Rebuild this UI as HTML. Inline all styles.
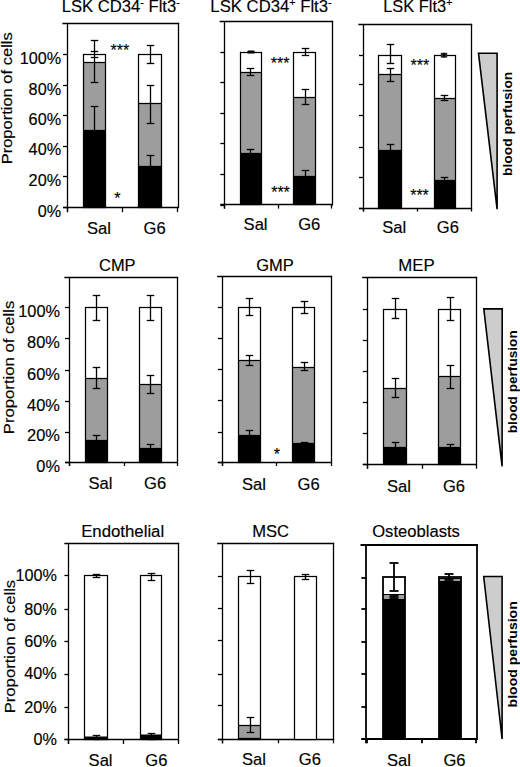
<!DOCTYPE html><html><head><meta charset="utf-8"><style>html,body{margin:0;padding:0;background:#fff;width:520px;height:767px;overflow:hidden}svg{display:block;font-family:"Liberation Sans", sans-serif} text{stroke:#000;stroke-width:0.15px} text[font-weight=bold]{stroke:none}</style></head><body>
<svg width="520" height="767" viewBox="0 0 520 767">
<rect width="520" height="767" fill="#fff"/>
<line x1="63" y1="23.5" x2="178.5" y2="23.5" stroke="#000" stroke-width="1.3" stroke-linecap="square"/>
<line x1="178.5" y1="23.5" x2="178.5" y2="207.5" stroke="#000" stroke-width="1.3" stroke-linecap="square"/>
<line x1="67.5" y1="23.6" x2="67.5" y2="212.2" stroke="#000" stroke-width="1.3"/>
<line x1="63.0" y1="207.5" x2="178" y2="207.5" stroke="#000" stroke-width="1.3"/>
<line x1="63.0" y1="207.5" x2="67.2" y2="207.5" stroke="#000" stroke-width="1.3"/>
<line x1="63.0" y1="176.5" x2="67.2" y2="176.5" stroke="#000" stroke-width="1.3"/>
<line x1="63.0" y1="146.5" x2="67.2" y2="146.5" stroke="#000" stroke-width="1.3"/>
<line x1="63.0" y1="115.5" x2="67.2" y2="115.5" stroke="#000" stroke-width="1.3"/>
<line x1="63.0" y1="85.5" x2="67.2" y2="85.5" stroke="#000" stroke-width="1.3"/>
<line x1="63.0" y1="54.5" x2="67.2" y2="54.5" stroke="#000" stroke-width="1.3"/>
<line x1="67.5" y1="207.5" x2="67.5" y2="212.2" stroke="#000" stroke-width="1.3"/>
<line x1="122.5" y1="207.5" x2="122.5" y2="212.2" stroke="#000" stroke-width="1.3"/>
<line x1="177.5" y1="207.5" x2="177.5" y2="212.2" stroke="#000" stroke-width="1.3"/>
<rect x="83.5" y="54.5" width="22.0" height="8.0" fill="#fff"/>
<rect x="83.5" y="62.5" width="22.0" height="68.0" fill="#9d9d9d"/>
<rect x="83.5" y="130.5" width="22.0" height="77.0" fill="#000"/>
<rect x="83.5" y="54.5" width="22.0" height="153.0" fill="none" stroke="#000" stroke-width="1.25"/>
<line x1="83.5" y1="62.5" x2="105.5" y2="62.5" stroke="#000" stroke-width="1.25"/>
<line x1="83.5" y1="130.5" x2="105.5" y2="130.5" stroke="#000" stroke-width="1.25"/>
<line x1="94.5" y1="40.0" x2="94.5" y2="82.4" stroke="#000" stroke-width="1.3"/>
<line x1="90.75" y1="40.5" x2="98.25" y2="40.5" stroke="#000" stroke-width="1.3"/>
<line x1="90.75" y1="51.5" x2="98.25" y2="51.5" stroke="#000" stroke-width="1.3"/>
<line x1="90.75" y1="57.5" x2="98.25" y2="57.5" stroke="#000" stroke-width="1.3"/>
<line x1="90.75" y1="82.5" x2="98.25" y2="82.5" stroke="#000" stroke-width="1.3"/>
<line x1="94.5" y1="106.8" x2="94.5" y2="150" stroke="#000" stroke-width="1.3"/>
<line x1="90.75" y1="106.5" x2="98.25" y2="106.5" stroke="#000" stroke-width="1.3"/>
<line x1="90.75" y1="150.5" x2="98.25" y2="150.5" stroke="#000" stroke-width="1.3"/>
<rect x="138.5" y="54.5" width="23.0" height="49.0" fill="#fff"/>
<rect x="138.5" y="103.5" width="23.0" height="63.0" fill="#9d9d9d"/>
<rect x="138.5" y="166.5" width="23.0" height="41.0" fill="#000"/>
<rect x="138.5" y="54.5" width="23.0" height="153.0" fill="none" stroke="#000" stroke-width="1.25"/>
<line x1="138.5" y1="103.5" x2="161.5" y2="103.5" stroke="#000" stroke-width="1.25"/>
<line x1="138.5" y1="166.5" x2="161.5" y2="166.5" stroke="#000" stroke-width="1.25"/>
<line x1="150.5" y1="45.5" x2="150.5" y2="63.0" stroke="#000" stroke-width="1.3"/>
<line x1="146.75" y1="45.5" x2="154.25" y2="45.5" stroke="#000" stroke-width="1.3"/>
<line x1="146.75" y1="63.5" x2="154.25" y2="63.5" stroke="#000" stroke-width="1.3"/>
<line x1="150.5" y1="85.5" x2="150.5" y2="123.0" stroke="#000" stroke-width="1.3"/>
<line x1="146.75" y1="85.5" x2="154.25" y2="85.5" stroke="#000" stroke-width="1.3"/>
<line x1="146.75" y1="123.5" x2="154.25" y2="123.5" stroke="#000" stroke-width="1.3"/>
<line x1="150.5" y1="155.3" x2="150.5" y2="185" stroke="#000" stroke-width="1.3"/>
<line x1="146.75" y1="155.5" x2="154.25" y2="155.5" stroke="#000" stroke-width="1.3"/>
<line x1="146.75" y1="185.5" x2="154.25" y2="185.5" stroke="#000" stroke-width="1.3"/>
<line x1="220.3" y1="21.5" x2="332.5" y2="21.5" stroke="#000" stroke-width="1.3" stroke-linecap="square"/>
<line x1="332.5" y1="21.5" x2="332.5" y2="204.9" stroke="#000" stroke-width="1.3" stroke-linecap="square"/>
<line x1="224.5" y1="21.3" x2="224.5" y2="208.6" stroke="#000" stroke-width="1.3"/>
<line x1="220.3" y1="204.5" x2="332" y2="204.5" stroke="#000" stroke-width="1.3"/>
<line x1="220.3" y1="205.5" x2="224.5" y2="205.5" stroke="#000" stroke-width="1.3"/>
<line x1="220.3" y1="174.5" x2="224.5" y2="174.5" stroke="#000" stroke-width="1.3"/>
<line x1="220.3" y1="143.5" x2="224.5" y2="143.5" stroke="#000" stroke-width="1.3"/>
<line x1="220.3" y1="113.5" x2="224.5" y2="113.5" stroke="#000" stroke-width="1.3"/>
<line x1="220.3" y1="82.5" x2="224.5" y2="82.5" stroke="#000" stroke-width="1.3"/>
<line x1="220.3" y1="52.5" x2="224.5" y2="52.5" stroke="#000" stroke-width="1.3"/>
<line x1="224.5" y1="204.9" x2="224.5" y2="208.6" stroke="#000" stroke-width="1.3"/>
<line x1="278.5" y1="204.9" x2="278.5" y2="208.6" stroke="#000" stroke-width="1.3"/>
<line x1="331.5" y1="204.9" x2="331.5" y2="208.6" stroke="#000" stroke-width="1.3"/>
<rect x="240.5" y="52.5" width="21.0" height="20.0" fill="#fff"/>
<rect x="240.5" y="72.5" width="21.0" height="81.0" fill="#9d9d9d"/>
<rect x="240.5" y="153.5" width="21.0" height="51.0" fill="#000"/>
<rect x="240.5" y="52.5" width="21.0" height="152.0" fill="none" stroke="#000" stroke-width="1.25"/>
<line x1="240.5" y1="72.5" x2="261.5" y2="72.5" stroke="#000" stroke-width="1.25"/>
<line x1="240.5" y1="153.5" x2="261.5" y2="153.5" stroke="#000" stroke-width="1.25"/>
<rect x="247.3" y="50.6" width="7.4" height="3" rx="1.2" fill="#000"/>
<line x1="250.5" y1="68.0" x2="250.5" y2="75.5" stroke="#000" stroke-width="1.3"/>
<line x1="246.75" y1="68.5" x2="254.25" y2="68.5" stroke="#000" stroke-width="1.3"/>
<line x1="246.75" y1="75.5" x2="254.25" y2="75.5" stroke="#000" stroke-width="1.3"/>
<line x1="250.5" y1="149.5" x2="250.5" y2="175" stroke="#000" stroke-width="1.3"/>
<line x1="246.75" y1="149.5" x2="254.25" y2="149.5" stroke="#000" stroke-width="1.3"/>
<line x1="246.75" y1="175.5" x2="254.25" y2="175.5" stroke="#000" stroke-width="1.3"/>
<rect x="293.5" y="52.5" width="22.0" height="45.0" fill="#fff"/>
<rect x="293.5" y="97.5" width="22.0" height="79.0" fill="#9d9d9d"/>
<rect x="293.5" y="176.5" width="22.0" height="28.0" fill="#000"/>
<rect x="293.5" y="52.5" width="22.0" height="152.0" fill="none" stroke="#000" stroke-width="1.25"/>
<line x1="293.5" y1="97.5" x2="315.5" y2="97.5" stroke="#000" stroke-width="1.25"/>
<line x1="293.5" y1="176.5" x2="315.5" y2="176.5" stroke="#000" stroke-width="1.25"/>
<line x1="305.5" y1="48.0" x2="305.5" y2="55.5" stroke="#000" stroke-width="1.3"/>
<line x1="301.75" y1="48.5" x2="309.25" y2="48.5" stroke="#000" stroke-width="1.3"/>
<line x1="301.75" y1="55.5" x2="309.25" y2="55.5" stroke="#000" stroke-width="1.3"/>
<line x1="305.5" y1="89.3" x2="305.5" y2="104.5" stroke="#000" stroke-width="1.3"/>
<line x1="301.75" y1="89.5" x2="309.25" y2="89.5" stroke="#000" stroke-width="1.3"/>
<line x1="301.75" y1="104.5" x2="309.25" y2="104.5" stroke="#000" stroke-width="1.3"/>
<line x1="305.5" y1="170.5" x2="305.5" y2="195" stroke="#000" stroke-width="1.3"/>
<line x1="301.75" y1="170.5" x2="309.25" y2="170.5" stroke="#000" stroke-width="1.3"/>
<line x1="301.75" y1="195.5" x2="309.25" y2="195.5" stroke="#000" stroke-width="1.3"/>
<line x1="359.0" y1="24.5" x2="471.5" y2="24.5" stroke="#000" stroke-width="1.3" stroke-linecap="square"/>
<line x1="471.5" y1="24.5" x2="471.5" y2="208.1" stroke="#000" stroke-width="1.3" stroke-linecap="square"/>
<line x1="363.5" y1="24.3" x2="363.5" y2="211.5" stroke="#000" stroke-width="1.3"/>
<line x1="359.0" y1="208.5" x2="471.8" y2="208.5" stroke="#000" stroke-width="1.3"/>
<line x1="359.0" y1="208.5" x2="363.2" y2="208.5" stroke="#000" stroke-width="1.3"/>
<line x1="359.0" y1="177.5" x2="363.2" y2="177.5" stroke="#000" stroke-width="1.3"/>
<line x1="359.0" y1="147.5" x2="363.2" y2="147.5" stroke="#000" stroke-width="1.3"/>
<line x1="359.0" y1="115.5" x2="363.2" y2="115.5" stroke="#000" stroke-width="1.3"/>
<line x1="359.0" y1="84.5" x2="363.2" y2="84.5" stroke="#000" stroke-width="1.3"/>
<line x1="359.0" y1="55.5" x2="363.2" y2="55.5" stroke="#000" stroke-width="1.3"/>
<line x1="363.5" y1="208.1" x2="363.5" y2="211.5" stroke="#000" stroke-width="1.3"/>
<line x1="417.5" y1="208.1" x2="417.5" y2="211.5" stroke="#000" stroke-width="1.3"/>
<line x1="471.5" y1="208.1" x2="471.5" y2="211.5" stroke="#000" stroke-width="1.3"/>
<rect x="378.5" y="55.5" width="23.0" height="19.0" fill="#fff"/>
<rect x="378.5" y="74.5" width="23.0" height="76.0" fill="#9d9d9d"/>
<rect x="378.5" y="150.5" width="23.0" height="58.0" fill="#000"/>
<rect x="378.5" y="55.5" width="23.0" height="153.0" fill="none" stroke="#000" stroke-width="1.25"/>
<line x1="378.5" y1="74.5" x2="401.5" y2="74.5" stroke="#000" stroke-width="1.25"/>
<line x1="378.5" y1="150.5" x2="401.5" y2="150.5" stroke="#000" stroke-width="1.25"/>
<line x1="390.5" y1="44.3" x2="390.5" y2="63.3" stroke="#000" stroke-width="1.3"/>
<line x1="386.75" y1="44.5" x2="394.25" y2="44.5" stroke="#000" stroke-width="1.3"/>
<line x1="386.75" y1="63.5" x2="394.25" y2="63.5" stroke="#000" stroke-width="1.3"/>
<line x1="390.5" y1="68.3" x2="390.5" y2="81.8" stroke="#000" stroke-width="1.3"/>
<line x1="386.75" y1="68.5" x2="394.25" y2="68.5" stroke="#000" stroke-width="1.3"/>
<line x1="386.75" y1="81.5" x2="394.25" y2="81.5" stroke="#000" stroke-width="1.3"/>
<line x1="390.5" y1="144.0" x2="390.5" y2="170" stroke="#000" stroke-width="1.3"/>
<line x1="386.75" y1="144.5" x2="394.25" y2="144.5" stroke="#000" stroke-width="1.3"/>
<line x1="386.75" y1="170.5" x2="394.25" y2="170.5" stroke="#000" stroke-width="1.3"/>
<rect x="434.5" y="55.5" width="21.0" height="43.0" fill="#fff"/>
<rect x="434.5" y="98.5" width="21.0" height="82.0" fill="#9d9d9d"/>
<rect x="434.5" y="180.5" width="21.0" height="28.0" fill="#000"/>
<rect x="434.5" y="55.5" width="21.0" height="153.0" fill="none" stroke="#000" stroke-width="1.25"/>
<line x1="434.5" y1="98.5" x2="455.5" y2="98.5" stroke="#000" stroke-width="1.25"/>
<line x1="434.5" y1="180.5" x2="455.5" y2="180.5" stroke="#000" stroke-width="1.25"/>
<rect x="440.8" y="52.8" width="6.4" height="4.8" fill="#262626"/>
<line x1="444" y1="52.8" x2="444" y2="57.6" stroke="#000" stroke-width="1.5"/>
<line x1="444.5" y1="95.4" x2="444.5" y2="100.8" stroke="#000" stroke-width="1.3"/>
<line x1="440.75" y1="95.5" x2="448.25" y2="95.5" stroke="#000" stroke-width="1.3"/>
<line x1="440.75" y1="100.5" x2="448.25" y2="100.5" stroke="#000" stroke-width="1.3"/>
<line x1="444.5" y1="177.2" x2="444.5" y2="195" stroke="#000" stroke-width="1.3"/>
<line x1="440.75" y1="177.5" x2="448.25" y2="177.5" stroke="#000" stroke-width="1.3"/>
<line x1="440.75" y1="195.5" x2="448.25" y2="195.5" stroke="#000" stroke-width="1.3"/>
<line x1="65.0" y1="277.5" x2="177.5" y2="277.5" stroke="#000" stroke-width="1.3" stroke-linecap="square"/>
<line x1="177.5" y1="277.5" x2="177.5" y2="462.6" stroke="#000" stroke-width="1.3" stroke-linecap="square"/>
<line x1="69.5" y1="277.3" x2="69.5" y2="466.0" stroke="#000" stroke-width="1.3"/>
<line x1="65.0" y1="462.5" x2="177.5" y2="462.5" stroke="#000" stroke-width="1.3"/>
<line x1="65.0" y1="462.5" x2="69.2" y2="462.5" stroke="#000" stroke-width="1.3"/>
<line x1="65.0" y1="432.5" x2="69.2" y2="432.5" stroke="#000" stroke-width="1.3"/>
<line x1="65.0" y1="401.5" x2="69.2" y2="401.5" stroke="#000" stroke-width="1.3"/>
<line x1="65.0" y1="370.5" x2="69.2" y2="370.5" stroke="#000" stroke-width="1.3"/>
<line x1="65.0" y1="338.5" x2="69.2" y2="338.5" stroke="#000" stroke-width="1.3"/>
<line x1="65.0" y1="307.5" x2="69.2" y2="307.5" stroke="#000" stroke-width="1.3"/>
<line x1="69.5" y1="462.6" x2="69.5" y2="466.0" stroke="#000" stroke-width="1.3"/>
<line x1="124.5" y1="462.6" x2="124.5" y2="466.0" stroke="#000" stroke-width="1.3"/>
<line x1="177.5" y1="462.6" x2="177.5" y2="466.0" stroke="#000" stroke-width="1.3"/>
<rect x="85.5" y="307.5" width="22.0" height="71.0" fill="#fff"/>
<rect x="85.5" y="378.5" width="22.0" height="62.0" fill="#9d9d9d"/>
<rect x="85.5" y="440.5" width="22.0" height="22.0" fill="#000"/>
<rect x="85.5" y="307.5" width="22.0" height="155.0" fill="none" stroke="#000" stroke-width="1.25"/>
<line x1="85.5" y1="378.5" x2="107.5" y2="378.5" stroke="#000" stroke-width="1.25"/>
<line x1="85.5" y1="440.5" x2="107.5" y2="440.5" stroke="#000" stroke-width="1.25"/>
<line x1="96.5" y1="295.0" x2="96.5" y2="320.8" stroke="#000" stroke-width="1.3"/>
<line x1="92.75" y1="295.5" x2="100.25" y2="295.5" stroke="#000" stroke-width="1.3"/>
<line x1="92.75" y1="320.5" x2="100.25" y2="320.5" stroke="#000" stroke-width="1.3"/>
<line x1="96.5" y1="367.5" x2="96.5" y2="388.3" stroke="#000" stroke-width="1.3"/>
<line x1="92.75" y1="367.5" x2="100.25" y2="367.5" stroke="#000" stroke-width="1.3"/>
<line x1="92.75" y1="388.5" x2="100.25" y2="388.5" stroke="#000" stroke-width="1.3"/>
<line x1="96.5" y1="435.0" x2="96.5" y2="455" stroke="#000" stroke-width="1.3"/>
<line x1="92.75" y1="435.5" x2="100.25" y2="435.5" stroke="#000" stroke-width="1.3"/>
<line x1="92.75" y1="455.5" x2="100.25" y2="455.5" stroke="#000" stroke-width="1.3"/>
<rect x="139.5" y="307.5" width="22.0" height="77.0" fill="#fff"/>
<rect x="139.5" y="384.5" width="22.0" height="64.0" fill="#9d9d9d"/>
<rect x="139.5" y="448.5" width="22.0" height="14.0" fill="#000"/>
<rect x="139.5" y="307.5" width="22.0" height="155.0" fill="none" stroke="#000" stroke-width="1.25"/>
<line x1="139.5" y1="384.5" x2="161.5" y2="384.5" stroke="#000" stroke-width="1.25"/>
<line x1="139.5" y1="448.5" x2="161.5" y2="448.5" stroke="#000" stroke-width="1.25"/>
<line x1="150.5" y1="295.0" x2="150.5" y2="320.8" stroke="#000" stroke-width="1.3"/>
<line x1="146.75" y1="295.5" x2="154.25" y2="295.5" stroke="#000" stroke-width="1.3"/>
<line x1="146.75" y1="320.5" x2="154.25" y2="320.5" stroke="#000" stroke-width="1.3"/>
<line x1="150.5" y1="375.0" x2="150.5" y2="393.8" stroke="#000" stroke-width="1.3"/>
<line x1="146.75" y1="375.5" x2="154.25" y2="375.5" stroke="#000" stroke-width="1.3"/>
<line x1="146.75" y1="393.5" x2="154.25" y2="393.5" stroke="#000" stroke-width="1.3"/>
<line x1="150.5" y1="444.5" x2="150.5" y2="458" stroke="#000" stroke-width="1.3"/>
<line x1="146.75" y1="444.5" x2="154.25" y2="444.5" stroke="#000" stroke-width="1.3"/>
<line x1="146.75" y1="458.5" x2="154.25" y2="458.5" stroke="#000" stroke-width="1.3"/>
<line x1="217.8" y1="276.5" x2="331.5" y2="276.5" stroke="#000" stroke-width="1.3" stroke-linecap="square"/>
<line x1="331.5" y1="276.5" x2="331.5" y2="462.4" stroke="#000" stroke-width="1.3" stroke-linecap="square"/>
<line x1="222.5" y1="276.3" x2="222.5" y2="466.0" stroke="#000" stroke-width="1.3"/>
<line x1="217.8" y1="462.5" x2="331.3" y2="462.5" stroke="#000" stroke-width="1.3"/>
<line x1="217.8" y1="462.5" x2="222.0" y2="462.5" stroke="#000" stroke-width="1.3"/>
<line x1="217.8" y1="432.5" x2="222.0" y2="432.5" stroke="#000" stroke-width="1.3"/>
<line x1="217.8" y1="400.5" x2="222.0" y2="400.5" stroke="#000" stroke-width="1.3"/>
<line x1="217.8" y1="369.5" x2="222.0" y2="369.5" stroke="#000" stroke-width="1.3"/>
<line x1="217.8" y1="338.5" x2="222.0" y2="338.5" stroke="#000" stroke-width="1.3"/>
<line x1="217.8" y1="307.5" x2="222.0" y2="307.5" stroke="#000" stroke-width="1.3"/>
<line x1="222.5" y1="462.4" x2="222.5" y2="466.0" stroke="#000" stroke-width="1.3"/>
<line x1="276.5" y1="462.4" x2="276.5" y2="466.0" stroke="#000" stroke-width="1.3"/>
<line x1="331.5" y1="462.4" x2="331.5" y2="466.0" stroke="#000" stroke-width="1.3"/>
<rect x="238.5" y="307.5" width="22.0" height="53.0" fill="#fff"/>
<rect x="238.5" y="360.5" width="22.0" height="75.0" fill="#9d9d9d"/>
<rect x="238.5" y="435.5" width="22.0" height="27.0" fill="#000"/>
<rect x="238.5" y="307.5" width="22.0" height="155.0" fill="none" stroke="#000" stroke-width="1.25"/>
<line x1="238.5" y1="360.5" x2="260.5" y2="360.5" stroke="#000" stroke-width="1.25"/>
<line x1="238.5" y1="435.5" x2="260.5" y2="435.5" stroke="#000" stroke-width="1.25"/>
<line x1="249.5" y1="298.8" x2="249.5" y2="315.8" stroke="#000" stroke-width="1.3"/>
<line x1="245.75" y1="298.5" x2="253.25" y2="298.5" stroke="#000" stroke-width="1.3"/>
<line x1="245.75" y1="315.5" x2="253.25" y2="315.5" stroke="#000" stroke-width="1.3"/>
<line x1="249.5" y1="355.0" x2="249.5" y2="365.0" stroke="#000" stroke-width="1.3"/>
<line x1="245.75" y1="355.5" x2="253.25" y2="355.5" stroke="#000" stroke-width="1.3"/>
<line x1="245.75" y1="365.5" x2="253.25" y2="365.5" stroke="#000" stroke-width="1.3"/>
<line x1="249.5" y1="430.5" x2="249.5" y2="450" stroke="#000" stroke-width="1.3"/>
<line x1="245.75" y1="430.5" x2="253.25" y2="430.5" stroke="#000" stroke-width="1.3"/>
<line x1="245.75" y1="450.5" x2="253.25" y2="450.5" stroke="#000" stroke-width="1.3"/>
<rect x="292.5" y="307.5" width="22.0" height="60.0" fill="#fff"/>
<rect x="292.5" y="367.5" width="22.0" height="76.0" fill="#9d9d9d"/>
<rect x="292.5" y="443.5" width="22.0" height="19.0" fill="#000"/>
<rect x="292.5" y="307.5" width="22.0" height="155.0" fill="none" stroke="#000" stroke-width="1.25"/>
<line x1="292.5" y1="367.5" x2="314.5" y2="367.5" stroke="#000" stroke-width="1.25"/>
<line x1="292.5" y1="443.5" x2="314.5" y2="443.5" stroke="#000" stroke-width="1.25"/>
<line x1="304.5" y1="301.8" x2="304.5" y2="313.3" stroke="#000" stroke-width="1.3"/>
<line x1="300.75" y1="301.5" x2="308.25" y2="301.5" stroke="#000" stroke-width="1.3"/>
<line x1="300.75" y1="313.5" x2="308.25" y2="313.5" stroke="#000" stroke-width="1.3"/>
<line x1="304.5" y1="362.5" x2="304.5" y2="370.8" stroke="#000" stroke-width="1.3"/>
<line x1="300.75" y1="362.5" x2="308.25" y2="362.5" stroke="#000" stroke-width="1.3"/>
<line x1="300.75" y1="370.5" x2="308.25" y2="370.5" stroke="#000" stroke-width="1.3"/>
<line x1="304.5" y1="442.0" x2="304.5" y2="455" stroke="#000" stroke-width="1.3"/>
<line x1="300.75" y1="442.5" x2="308.25" y2="442.5" stroke="#000" stroke-width="1.3"/>
<line x1="300.75" y1="455.5" x2="308.25" y2="455.5" stroke="#000" stroke-width="1.3"/>
<line x1="362.8" y1="277.5" x2="476.5" y2="277.5" stroke="#000" stroke-width="1.3" stroke-linecap="square"/>
<line x1="476.5" y1="277.5" x2="476.5" y2="464.9" stroke="#000" stroke-width="1.3" stroke-linecap="square"/>
<line x1="367.5" y1="277.0" x2="367.5" y2="468.8" stroke="#000" stroke-width="1.3"/>
<line x1="362.8" y1="464.5" x2="476.5" y2="464.5" stroke="#000" stroke-width="1.3"/>
<line x1="362.8" y1="464.5" x2="367.0" y2="464.5" stroke="#000" stroke-width="1.3"/>
<line x1="362.8" y1="433.5" x2="367.0" y2="433.5" stroke="#000" stroke-width="1.3"/>
<line x1="362.8" y1="402.5" x2="367.0" y2="402.5" stroke="#000" stroke-width="1.3"/>
<line x1="362.8" y1="371.5" x2="367.0" y2="371.5" stroke="#000" stroke-width="1.3"/>
<line x1="362.8" y1="340.5" x2="367.0" y2="340.5" stroke="#000" stroke-width="1.3"/>
<line x1="362.8" y1="309.5" x2="367.0" y2="309.5" stroke="#000" stroke-width="1.3"/>
<line x1="367.5" y1="464.9" x2="367.5" y2="468.8" stroke="#000" stroke-width="1.3"/>
<line x1="422.5" y1="464.9" x2="422.5" y2="468.8" stroke="#000" stroke-width="1.3"/>
<line x1="476.5" y1="464.9" x2="476.5" y2="468.8" stroke="#000" stroke-width="1.3"/>
<rect x="383.5" y="309.5" width="23.0" height="79.0" fill="#fff"/>
<rect x="383.5" y="388.5" width="23.0" height="59.0" fill="#9d9d9d"/>
<rect x="383.5" y="447.5" width="23.0" height="17.0" fill="#000"/>
<rect x="383.5" y="309.5" width="23.0" height="155.0" fill="none" stroke="#000" stroke-width="1.25"/>
<line x1="383.5" y1="388.5" x2="406.5" y2="388.5" stroke="#000" stroke-width="1.25"/>
<line x1="383.5" y1="447.5" x2="406.5" y2="447.5" stroke="#000" stroke-width="1.25"/>
<line x1="395.5" y1="298.8" x2="395.5" y2="318.8" stroke="#000" stroke-width="1.3"/>
<line x1="391.75" y1="298.5" x2="399.25" y2="298.5" stroke="#000" stroke-width="1.3"/>
<line x1="391.75" y1="318.5" x2="399.25" y2="318.5" stroke="#000" stroke-width="1.3"/>
<line x1="395.5" y1="378.8" x2="395.5" y2="397.0" stroke="#000" stroke-width="1.3"/>
<line x1="391.75" y1="378.5" x2="399.25" y2="378.5" stroke="#000" stroke-width="1.3"/>
<line x1="391.75" y1="397.5" x2="399.25" y2="397.5" stroke="#000" stroke-width="1.3"/>
<line x1="395.5" y1="442.5" x2="395.5" y2="460" stroke="#000" stroke-width="1.3"/>
<line x1="391.75" y1="442.5" x2="399.25" y2="442.5" stroke="#000" stroke-width="1.3"/>
<line x1="391.75" y1="460.5" x2="399.25" y2="460.5" stroke="#000" stroke-width="1.3"/>
<rect x="438.5" y="309.5" width="22.0" height="67.0" fill="#fff"/>
<rect x="438.5" y="376.5" width="22.0" height="71.0" fill="#9d9d9d"/>
<rect x="438.5" y="447.5" width="22.0" height="17.0" fill="#000"/>
<rect x="438.5" y="309.5" width="22.0" height="155.0" fill="none" stroke="#000" stroke-width="1.25"/>
<line x1="438.5" y1="376.5" x2="460.5" y2="376.5" stroke="#000" stroke-width="1.25"/>
<line x1="438.5" y1="447.5" x2="460.5" y2="447.5" stroke="#000" stroke-width="1.25"/>
<line x1="450.5" y1="297.5" x2="450.5" y2="320.0" stroke="#000" stroke-width="1.3"/>
<line x1="446.75" y1="297.5" x2="454.25" y2="297.5" stroke="#000" stroke-width="1.3"/>
<line x1="446.75" y1="320.5" x2="454.25" y2="320.5" stroke="#000" stroke-width="1.3"/>
<line x1="450.5" y1="365.0" x2="450.5" y2="388.0" stroke="#000" stroke-width="1.3"/>
<line x1="446.75" y1="365.5" x2="454.25" y2="365.5" stroke="#000" stroke-width="1.3"/>
<line x1="446.75" y1="388.5" x2="454.25" y2="388.5" stroke="#000" stroke-width="1.3"/>
<line x1="450.5" y1="444.5" x2="450.5" y2="460" stroke="#000" stroke-width="1.3"/>
<line x1="446.75" y1="444.5" x2="454.25" y2="444.5" stroke="#000" stroke-width="1.3"/>
<line x1="446.75" y1="460.5" x2="454.25" y2="460.5" stroke="#000" stroke-width="1.3"/>
<line x1="65" y1="543.5" x2="178.5" y2="543.5" stroke="#000" stroke-width="1.3" stroke-linecap="square"/>
<line x1="178.5" y1="543.5" x2="178.5" y2="739.8" stroke="#000" stroke-width="1.3" stroke-linecap="square"/>
<line x1="68.5" y1="543.4" x2="68.5" y2="744.0" stroke="#000" stroke-width="1.3"/>
<line x1="64.39999999999999" y1="739.5" x2="178.3" y2="739.5" stroke="#000" stroke-width="1.3"/>
<line x1="64.39999999999999" y1="739.5" x2="68.6" y2="739.5" stroke="#000" stroke-width="1.3"/>
<line x1="64.39999999999999" y1="707.5" x2="68.6" y2="707.5" stroke="#000" stroke-width="1.3"/>
<line x1="64.39999999999999" y1="674.5" x2="68.6" y2="674.5" stroke="#000" stroke-width="1.3"/>
<line x1="64.39999999999999" y1="641.5" x2="68.6" y2="641.5" stroke="#000" stroke-width="1.3"/>
<line x1="64.39999999999999" y1="609.5" x2="68.6" y2="609.5" stroke="#000" stroke-width="1.3"/>
<line x1="64.39999999999999" y1="575.5" x2="68.6" y2="575.5" stroke="#000" stroke-width="1.3"/>
<line x1="68.5" y1="739.8" x2="68.5" y2="744.0" stroke="#000" stroke-width="1.3"/>
<line x1="123.5" y1="739.8" x2="123.5" y2="744.0" stroke="#000" stroke-width="1.3"/>
<line x1="178.5" y1="739.8" x2="178.5" y2="744.0" stroke="#000" stroke-width="1.3"/>
<rect x="84.5" y="575.5" width="23.0" height="161.0" fill="#fff"/>
<rect x="84.5" y="736.5" width="23.0" height="3.0" fill="#000"/>
<rect x="84.5" y="575.5" width="23.0" height="164.0" fill="none" stroke="#000" stroke-width="1.25"/>
<line x1="96.5" y1="574.5" x2="96.5" y2="577.5" stroke="#000" stroke-width="1.3"/>
<line x1="92.75" y1="574.5" x2="100.25" y2="574.5" stroke="#000" stroke-width="1.3"/>
<line x1="92.75" y1="577.5" x2="100.25" y2="577.5" stroke="#000" stroke-width="1.3"/>
<line x1="96.5" y1="735.9" x2="96.5" y2="739" stroke="#000" stroke-width="1.3"/>
<line x1="92.75" y1="735.5" x2="100.25" y2="735.5" stroke="#000" stroke-width="1.3"/>
<line x1="92.75" y1="739.5" x2="100.25" y2="739.5" stroke="#000" stroke-width="1.3"/>
<rect x="140.5" y="575.5" width="21.0" height="159.0" fill="#fff"/>
<rect x="140.5" y="734.5" width="21.0" height="5.0" fill="#000"/>
<rect x="140.5" y="575.5" width="21.0" height="164.0" fill="none" stroke="#000" stroke-width="1.25"/>
<line x1="151.5" y1="573.0" x2="151.5" y2="580.0" stroke="#000" stroke-width="1.3"/>
<line x1="147.75" y1="573.5" x2="155.25" y2="573.5" stroke="#000" stroke-width="1.3"/>
<line x1="147.75" y1="580.5" x2="155.25" y2="580.5" stroke="#000" stroke-width="1.3"/>
<line x1="151.5" y1="733.4" x2="151.5" y2="739" stroke="#000" stroke-width="1.3"/>
<line x1="147.75" y1="733.5" x2="155.25" y2="733.5" stroke="#000" stroke-width="1.3"/>
<line x1="147.75" y1="739.5" x2="155.25" y2="739.5" stroke="#000" stroke-width="1.3"/>
<line x1="217.8" y1="543.5" x2="333.5" y2="543.5" stroke="#000" stroke-width="1.3" stroke-linecap="square"/>
<line x1="333.5" y1="543.5" x2="333.5" y2="739.0" stroke="#000" stroke-width="1.3" stroke-linecap="square"/>
<line x1="222.5" y1="543.8" x2="222.5" y2="743.3" stroke="#000" stroke-width="1.3"/>
<line x1="217.8" y1="739.5" x2="333.5" y2="739.5" stroke="#000" stroke-width="1.3"/>
<line x1="217.8" y1="739.5" x2="222.0" y2="739.5" stroke="#000" stroke-width="1.3"/>
<line x1="217.8" y1="705.5" x2="222.0" y2="705.5" stroke="#000" stroke-width="1.3"/>
<line x1="217.8" y1="674.5" x2="222.0" y2="674.5" stroke="#000" stroke-width="1.3"/>
<line x1="217.8" y1="640.5" x2="222.0" y2="640.5" stroke="#000" stroke-width="1.3"/>
<line x1="217.8" y1="608.5" x2="222.0" y2="608.5" stroke="#000" stroke-width="1.3"/>
<line x1="217.8" y1="576.5" x2="222.0" y2="576.5" stroke="#000" stroke-width="1.3"/>
<line x1="222.5" y1="739.0" x2="222.5" y2="743.3" stroke="#000" stroke-width="1.3"/>
<line x1="278.5" y1="739.0" x2="278.5" y2="743.3" stroke="#000" stroke-width="1.3"/>
<line x1="333.5" y1="739.0" x2="333.5" y2="743.3" stroke="#000" stroke-width="1.3"/>
<rect x="238.5" y="576.5" width="22.0" height="149.0" fill="#fff"/>
<rect x="238.5" y="725.5" width="22.0" height="13.0" fill="#9d9d9d"/>
<rect x="238.5" y="738.5" width="22.0" height="1.0" fill="#000"/>
<rect x="238.5" y="576.5" width="22.0" height="163.0" fill="none" stroke="#000" stroke-width="1.25"/>
<line x1="238.5" y1="725.5" x2="260.5" y2="725.5" stroke="#000" stroke-width="1.25"/>
<line x1="238.5" y1="738.5" x2="260.5" y2="738.5" stroke="#000" stroke-width="1.25"/>
<line x1="250.5" y1="570.0" x2="250.5" y2="583.3" stroke="#000" stroke-width="1.3"/>
<line x1="246.75" y1="570.5" x2="254.25" y2="570.5" stroke="#000" stroke-width="1.3"/>
<line x1="246.75" y1="583.5" x2="254.25" y2="583.5" stroke="#000" stroke-width="1.3"/>
<line x1="250.5" y1="717.5" x2="250.5" y2="732.5" stroke="#000" stroke-width="1.3"/>
<line x1="246.75" y1="717.5" x2="254.25" y2="717.5" stroke="#000" stroke-width="1.3"/>
<line x1="246.75" y1="732.5" x2="254.25" y2="732.5" stroke="#000" stroke-width="1.3"/>
<rect x="294.5" y="576.5" width="22.0" height="163.0" fill="#fff"/>
<rect x="294.5" y="576.5" width="22.0" height="163.0" fill="none" stroke="#000" stroke-width="1.25"/>
<line x1="305.5" y1="574.3" x2="305.5" y2="579.3" stroke="#000" stroke-width="1.3"/>
<line x1="301.75" y1="574.5" x2="309.25" y2="574.5" stroke="#000" stroke-width="1.3"/>
<line x1="301.75" y1="579.5" x2="309.25" y2="579.5" stroke="#000" stroke-width="1.3"/>
<line x1="361.4" y1="545.0" x2="477.0" y2="545.0" stroke="#000" stroke-width="1.8" stroke-linecap="square"/>
<line x1="477.0" y1="545.0" x2="477.0" y2="739.0" stroke="#000" stroke-width="1.8" stroke-linecap="square"/>
<line x1="366.0" y1="545.0" x2="366.0" y2="743.3" stroke="#000" stroke-width="1.8"/>
<line x1="361.4" y1="739.0" x2="477.0" y2="739.0" stroke="#000" stroke-width="1.8"/>
<line x1="361.4" y1="739.0" x2="366.4" y2="739.0" stroke="#000" stroke-width="1.8"/>
<line x1="361.4" y1="707.0" x2="366.4" y2="707.0" stroke="#000" stroke-width="1.8"/>
<line x1="361.4" y1="674.0" x2="366.4" y2="674.0" stroke="#000" stroke-width="1.8"/>
<line x1="361.4" y1="642.0" x2="366.4" y2="642.0" stroke="#000" stroke-width="1.8"/>
<line x1="361.4" y1="609.0" x2="366.4" y2="609.0" stroke="#000" stroke-width="1.8"/>
<line x1="361.4" y1="578.0" x2="366.4" y2="578.0" stroke="#000" stroke-width="1.8"/>
<line x1="367.0" y1="739.0" x2="367.0" y2="743.3" stroke="#000" stroke-width="1.8"/>
<line x1="422.0" y1="739.0" x2="422.0" y2="743.3" stroke="#000" stroke-width="1.8"/>
<line x1="476.0" y1="739.0" x2="476.0" y2="743.3" stroke="#000" stroke-width="1.8"/>
<rect x="383.0" y="577.0" width="22.0" height="17.5" fill="#fff"/>
<rect x="383.0" y="594.5" width="22.0" height="5.0" fill="#9d9d9d"/>
<rect x="383.0" y="599.5" width="22.0" height="139.5" fill="#000"/>
<rect x="383.0" y="577.0" width="22.0" height="162.0" fill="none" stroke="#000" stroke-width="1.8"/>
<line x1="383.0" y1="594.5" x2="405.0" y2="594.5" stroke="#000" stroke-width="1.0"/>
<line x1="383.0" y1="599.5" x2="405.0" y2="599.5" stroke="#000" stroke-width="1.0"/>
<line x1="394.0" y1="563.2" x2="394.0" y2="590.6" stroke="#000" stroke-width="1.8"/>
<line x1="389.5" y1="563.0" x2="398.5" y2="563.0" stroke="#000" stroke-width="1.8"/>
<line x1="389.5" y1="591.0" x2="398.5" y2="591.0" stroke="#000" stroke-width="1.8"/>
<line x1="394.0" y1="595.6" x2="394.0" y2="597.8" stroke="#000" stroke-width="1.8"/>
<line x1="389.5" y1="596.0" x2="398.5" y2="596.0" stroke="#000" stroke-width="1.8"/>
<line x1="389.5" y1="598.0" x2="398.5" y2="598.0" stroke="#000" stroke-width="1.8"/>
<rect x="439.0" y="577.0" width="22.0" height="1.5" fill="#fff"/>
<rect x="439.0" y="578.5" width="22.0" height="3.0" fill="#9d9d9d"/>
<rect x="439.0" y="581.5" width="22.0" height="157.5" fill="#000"/>
<rect x="439.0" y="577.0" width="22.0" height="162.0" fill="none" stroke="#000" stroke-width="1.8"/>
<line x1="439.0" y1="578.5" x2="461.0" y2="578.5" stroke="#000" stroke-width="1.0"/>
<line x1="439.0" y1="581.5" x2="461.0" y2="581.5" stroke="#000" stroke-width="1.0"/>
<line x1="449.0" y1="574.2" x2="449.0" y2="580" stroke="#000" stroke-width="1.8"/>
<line x1="444.5" y1="574.0" x2="453.5" y2="574.0" stroke="#000" stroke-width="1.8"/>
<line x1="444.5" y1="580.0" x2="453.5" y2="580.0" stroke="#000" stroke-width="1.8"/>
<polygon points="478.5,53.2 497.1,53.2 497.1,209.2" fill="#cdcdcd" stroke="#000" stroke-width="1.6" stroke-linejoin="miter"/>
<polygon points="483.8,308.9 502.2,308.9 502.1,466.4" fill="#cdcdcd" stroke="#000" stroke-width="1.6" stroke-linejoin="miter"/>
<polygon points="483.7,576.5 502.1,576.5 502.1,739.0" fill="#cdcdcd" stroke="#000" stroke-width="1.6" stroke-linejoin="miter"/>
<text font-size="15.6" transform="translate(61.67,11.60) scale(1.0679,1)">LSK CD34<tspan font-size="10" dy="-5.5">-</tspan><tspan dy="5.5"> Flt3</tspan><tspan font-size="10" dy="-5.5">-</tspan></text>
<text font-size="15.6" transform="translate(210.36,11.80) scale(1.0717,1)">LSK CD34<tspan font-size="10" dy="-5.5">+</tspan><tspan dy="5.5"> Flt3</tspan><tspan font-size="10" dy="-5.5">-</tspan></text>
<text font-size="15.6" transform="translate(383.18,11.60) scale(1.0547,1)">LSK Flt3<tspan font-size="10" dy="-5.5">+</tspan></text>
<text font-size="15.6" transform="translate(99.01,270.75) scale(1.0545,1)">CMP</text>
<text font-size="15.6" transform="translate(256.21,270.60) scale(1.0588,1)">GMP</text>
<text font-size="15.6" transform="translate(398.26,270.75) scale(1.0756,1)">MEP</text>
<text font-size="15.6" transform="translate(81.15,537.00) scale(1.0769,1)">Endothelial</text>
<text font-size="15.6" transform="translate(252.17,537.10) scale(1.0626,1)">MSC</text>
<text font-size="15.6" transform="translate(372.20,537.00) scale(1.0648,1)">Osteoblasts</text>
<text font-size="15.6" transform="translate(37.72,216.80) scale(1.0400,1)">0%</text>
<text font-size="15.6" transform="translate(28.62,186.00) scale(1.0400,1)">20%</text>
<text font-size="15.6" transform="translate(28.62,155.30) scale(1.0400,1)">40%</text>
<text font-size="15.6" transform="translate(28.62,124.80) scale(1.0400,1)">60%</text>
<text font-size="15.6" transform="translate(28.62,94.60) scale(1.0400,1)">80%</text>
<text font-size="15.6" transform="translate(19.78,63.70) scale(1.0400,1)">100%</text>
<text font-size="15.6" transform="translate(36.30,472.00) scale(1.0500,1)">0%</text>
<text font-size="15.6" transform="translate(27.11,441.40) scale(1.0500,1)">20%</text>
<text font-size="15.6" transform="translate(27.11,410.70) scale(1.0500,1)">40%</text>
<text font-size="15.6" transform="translate(27.11,379.90) scale(1.0500,1)">60%</text>
<text font-size="15.6" transform="translate(27.11,348.20) scale(1.0500,1)">80%</text>
<text font-size="15.6" transform="translate(18.19,317.30) scale(1.0500,1)">100%</text>
<text font-size="15.6" transform="translate(33.42,745.10) scale(1.0400,1)">0%</text>
<text font-size="15.6" transform="translate(24.32,713.10) scale(1.0400,1)">20%</text>
<text font-size="15.6" transform="translate(24.32,679.30) scale(1.0400,1)">40%</text>
<text font-size="15.6" transform="translate(24.32,646.80) scale(1.0400,1)">60%</text>
<text font-size="15.6" transform="translate(24.32,614.80) scale(1.0400,1)">80%</text>
<text font-size="15.6" transform="translate(15.48,581.20) scale(1.0400,1)">100%</text>
<text font-size="15.3" transform="translate(12.10,164.35) rotate(-90) scale(1.0791,1)">Proportion of cells</text>
<text font-size="15.3" transform="translate(13.70,434.16) rotate(-90) scale(1.0907,1)">Proportion of cells</text>
<text font-size="15.3" transform="translate(15.20,713.36) rotate(-90) scale(1.0915,1)">Proportion of cells</text>
<text font-size="13.6" font-weight="bold" transform="translate(512.40,175.91) rotate(-90) scale(1.0144,1)">blood perfusion</text>
<text font-size="13.6" font-weight="bold" transform="translate(516.60,433.20) rotate(-90) scale(1.0025,1)">blood perfusion</text>
<text font-size="13.6" font-weight="bold" transform="translate(517.30,707.43) rotate(-90) scale(1.0342,1)">blood perfusion</text>
<text font-size="15.8" transform="translate(86.99,233.90) scale(1.0500,1)">Sal</text>
<text font-size="15.8" transform="translate(243.59,229.60) scale(1.0500,1)">Sal</text>
<text font-size="15.8" transform="translate(382.19,232.80) scale(1.0500,1)">Sal</text>
<text font-size="15.8" transform="translate(88.39,489.10) scale(1.0500,1)">Sal</text>
<text font-size="15.8" transform="translate(241.99,489.60) scale(1.0500,1)">Sal</text>
<text font-size="15.8" transform="translate(386.99,491.80) scale(1.0500,1)">Sal</text>
<text font-size="15.8" transform="translate(88.59,766.00) scale(1.0500,1)">Sal</text>
<text font-size="15.8" transform="translate(241.99,764.60) scale(1.0500,1)">Sal</text>
<text font-size="15.8" transform="translate(386.99,766.30) scale(1.0500,1)">Sal</text>
<text font-size="15.8" transform="translate(143.54,234.00) scale(1.0500,1)">G6</text>
<text font-size="15.8" transform="translate(298.14,229.60) scale(1.0500,1)">G6</text>
<text font-size="15.8" transform="translate(436.74,232.80) scale(1.0500,1)">G6</text>
<text font-size="15.8" transform="translate(144.04,489.10) scale(1.0500,1)">G6</text>
<text font-size="15.8" transform="translate(297.54,489.60) scale(1.0500,1)">G6</text>
<text font-size="15.8" transform="translate(442.94,491.80) scale(1.0500,1)">G6</text>
<text font-size="15.8" transform="translate(145.24,766.00) scale(1.0500,1)">G6</text>
<text font-size="15.8" transform="translate(298.74,764.60) scale(1.0500,1)">G6</text>
<text font-size="15.8" transform="translate(443.44,766.30) scale(1.0500,1)">G6</text>
<text font-size="16" transform="translate(110.55,56.25) scale(1.0000,1)">***</text>
<text font-size="16" transform="translate(114.17,204.15) scale(1.0000,1)">*</text>
<text font-size="16" transform="translate(270.75,69.25) scale(1.0000,1)">***</text>
<text font-size="16" transform="translate(271.15,197.95) scale(1.0000,1)">***</text>
<text font-size="16" transform="translate(410.55,71.45) scale(1.0000,1)">***</text>
<text font-size="16" transform="translate(410.15,201.45) scale(1.0000,1)">***</text>
<text font-size="16" transform="translate(273.68,459.75) scale(1.0000,1)">*</text>
</svg></body></html>
